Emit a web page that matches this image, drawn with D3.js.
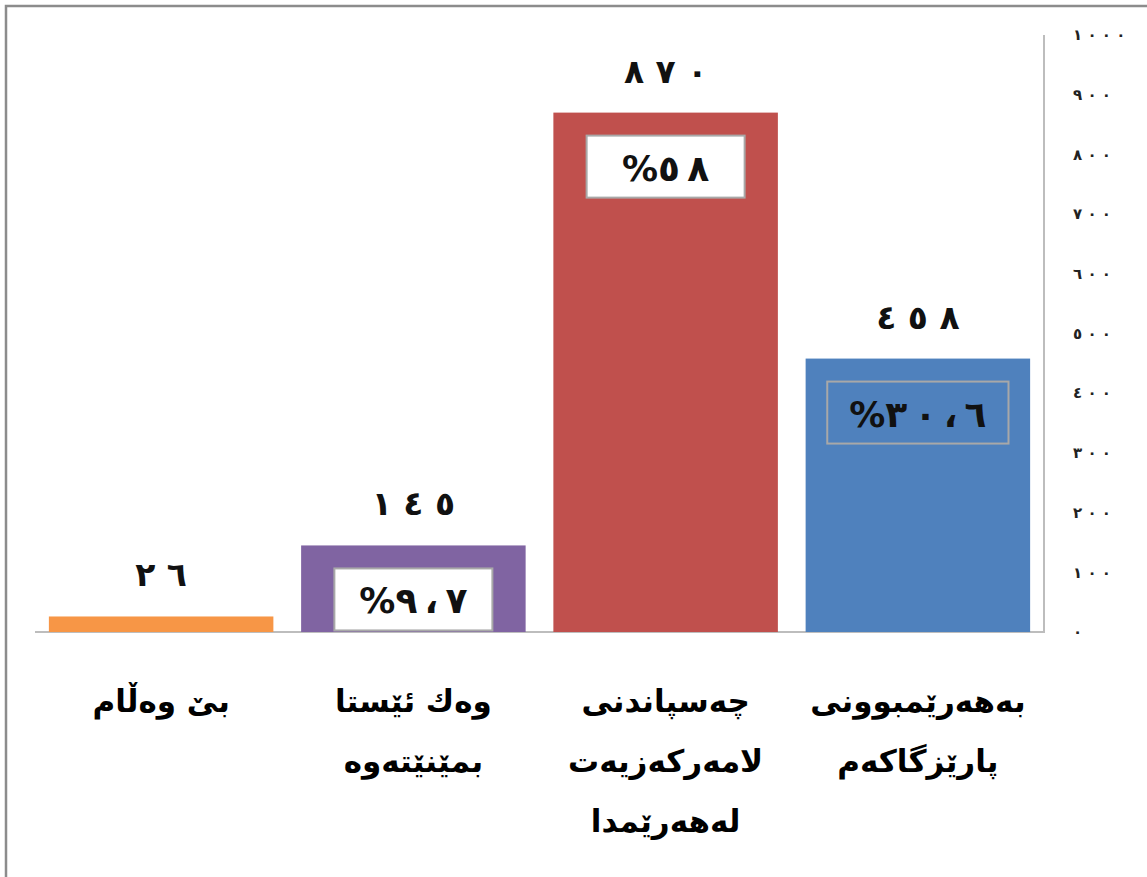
<!DOCTYPE html>
<meta charset="utf-8">
<style>
  body { margin: 0; background: #fff; }
  svg { display: block; }
  .frame { fill: none; stroke: #8c8c8c; stroke-width: 2.5; }
  .axis-line { stroke: #bdbdbd; stroke-width: 2; fill: none; }
  .tick-label { font-family: "DejaVu Sans", sans-serif; font-weight: bold; font-size: 15px; fill: #222; }
  .value-label { font-family: "DejaVu Sans", sans-serif; font-weight: bold; font-size: 33px; fill: #111; }
  .pct-label { font-family: "DejaVu Sans", sans-serif; font-weight: bold; font-size: 36px; fill: #111; }
  .cat-label { font-family: "DejaVu Sans", sans-serif; font-weight: bold; font-size: 31px; fill: #000; }
  .pct-box { stroke: #a8a8a8; stroke-width: 2; }
</style>
<body>
<script src="https://d3js.org/d3.v7.min.js"></script>
<script>
// data, left to right as in the picture
var categories = [
  ["بێ وەڵام"],
  ["وەك ئێستا", "بمێنێتەوە"],
  ["چەسپاندنی", "لامەرکەزیەت", "لەهەرێمدا"],
  ["بەهەرێمبوونی", "پارێزگاکەم"]
];
var values = [26, 145, 870, 458];
var percents = [null, 9.7, 58, 30.6];
var colors = ["#f79646", "#8064a2", "#c0504d", "#4f81bd"];
var boxFills = [null, "#fff", "#fff", "none"];
var yTicks = [0, 100, 200, 300, 400, 500, 600, 700, 800, 900, 1000];

var W = 1147, H = 877;
var plot = {left: 35, right: 1044, top: 35, bottom: 632};

// western digits -> arabic-indic
function ar(s) {
  return String(s).replace(/[0-9]/g, function(c){ return "٠١٢٣٤٥٦٧٨٩"[+c]; });
}

var svg = d3.select("body").append("svg")
    .attr("width", W)
    .attr("height", H);

// picture frame (only top and left edges show)
svg.append("path")
    .attr("class", "frame")
    .attr("d", "M6," + H + "V6H" + W);

var x = d3.scaleBand()
    .domain(d3.range(values.length))
    .range([plot.left, plot.right])
    .paddingInner(0.11)
    .paddingOuter(0.055);

var y = d3.scaleLinear()
    .domain([0, 1000])
    .range([plot.bottom, plot.top]);

// axis: vertical line on the right + baseline
svg.append("path")
    .attr("class", "axis-line")
    .attr("d", "M" + plot.left + "," + y(0) + "H" + plot.right + "V" + y(1000));

svg.selectAll("text.tick-label")
    .data(yTicks)
    .enter().append("text")
    .attr("class", "tick-label")
    .attr("x", 1073)
    .attr("y", function(d){ return y(d); })
    .attr("dy", "0.35em")
    .style("direction", "ltr")
    .style("unicode-bidi", "bidi-override")
    .text(function(d){ return ar(d).split("").join(" "); });

var bars = svg.selectAll("g.bar")
    .data(values)
    .enter().append("g")
    .attr("class", "bar");

bars.append("rect")
    .attr("x", function(d, i){ return x(i); })
    .attr("y", function(d){ return y(d); })
    .attr("width", x.bandwidth())
    .attr("height", function(d){ return y(0) - y(d); })
    .attr("fill", function(d, i){ return colors[i]; });

// value above each bar, digits spaced out
bars.append("text")
    .attr("class", "value-label")
    .attr("x", function(d, i){ return x(i) + x.bandwidth() / 2; })
    .attr("y", function(d){ return y(d) - 30; })
    .attr("text-anchor", "middle")
    .style("direction", "ltr")
    .style("unicode-bidi", "bidi-override")
    .text(function(d){ return ar(d).split("").join(" "); });

// percentage boxes
bars.each(function(d, i) {
  if (percents[i] == null) return;
  var g = d3.select(this);
  var cx = x(i) + x.bandwidth() / 2;
  var top = y(d) + 23;
  var t = g.append("text")
      .attr("class", "pct-label")
      .attr("x", cx)
      .attr("y", top + 45)
      .attr("text-anchor", "middle")
      .style("direction", "ltr")
      .style("unicode-bidi", "bidi-override")
      .text("%" + ar(percents[i]).replace(".", "،").split("").join("\u2009"));
  var bw = Math.max(t.node().getComputedTextLength() + 44, 158);
  g.insert("rect", "text.pct-label")
      .attr("class", "pct-box")
      .attr("x", cx - bw / 2)
      .attr("y", top)
      .attr("width", bw)
      .attr("height", 62)
      .attr("fill", boxFills[i]);
});

// category labels below the axis
svg.selectAll("text.cat-label")
    .data(categories)
    .enter().append("text")
    .attr("class", "cat-label")
    .attr("text-anchor", "middle")
    .attr("direction", "rtl")
    .each(function(lines, i) {
      var t = d3.select(this);
      lines.forEach(function(line, j) {
        t.append("tspan")
          .attr("x", x(i) + x.bandwidth() / 2)
          .attr("y", 712 + j * 60)
          .text(line);
      });
    });
</script>
</body>
